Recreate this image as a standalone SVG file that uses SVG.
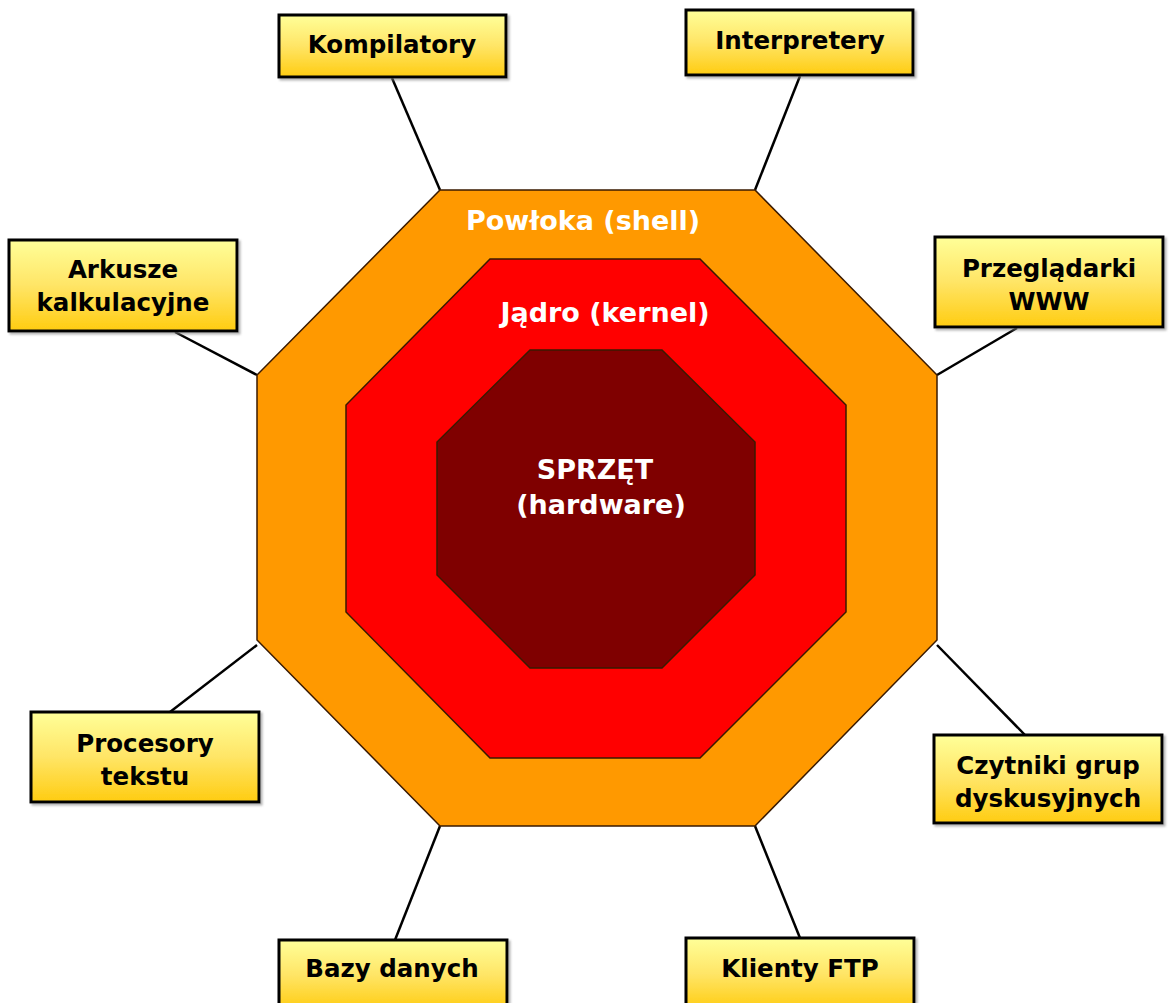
<svg xmlns="http://www.w3.org/2000/svg" width="1176" height="1003" viewBox="0 0 1176 1003">
<defs>
<linearGradient id="yg" x1="0" y1="0" x2="0" y2="1">
<stop offset="0" stop-color="#FFFF99"/>
<stop offset="0.5" stop-color="#FFE566"/>
<stop offset="1" stop-color="#FFCC11"/>
</linearGradient>
<filter id="sh" x="-5%" y="-5%" width="115%" height="130%">
<feDropShadow dx="2" dy="2" stdDeviation="1" flood-color="#808080" flood-opacity="0.6"/>
</filter>
</defs>
<style>
.box{fill:url(#yg);stroke:#000;stroke-width:3;filter:url(#sh)}
.bt{font-family:"DejaVu Sans",Verdana,sans-serif;font-weight:bold;font-size:24.5px;fill:#000;text-anchor:middle}
.wt{font-family:"DejaVu Sans",Verdana,sans-serif;font-weight:bold;font-size:27px;fill:#fff;text-anchor:middle}
.oct{stroke:#3a1a00;stroke-width:1.5}
.ln{stroke:#000;stroke-width:2.5;fill:none}
</style>
<rect width="1176" height="1003" fill="#fff"/>
<g id="connectors">
<line class="ln" x1="392" y1="78" x2="440" y2="190"/>
<line class="ln" x1="800" y1="76" x2="755" y2="190"/>
<line class="ln" x1="175" y1="332" x2="257" y2="375"/>
<line class="ln" x1="1017" y1="328" x2="937" y2="375"/>
<line class="ln" x1="170" y1="712" x2="257" y2="645"/>
<line class="ln" x1="1025" y1="735" x2="937" y2="645"/>
<line class="ln" x1="395" y1="940" x2="440" y2="826"/>
<line class="ln" x1="800" y1="938" x2="755" y2="826"/>
</g>
<g id="shell">
<polygon class="oct" fill="#FF9900" points="440,190 755,190 937,375 937,640 755,826 440,826 257,640 257,375"/>
<text class="wt" x="583" y="230">Powłoka (shell)</text>
</g>
<g id="kernel">
<polygon class="oct" fill="#FF0000" points="490,259 700,259 846,405 846,612 700,758 490,758 346,612 346,405"/>
<text class="wt" x="605" y="322">Jądro (kernel)</text>
</g>
<g id="hardware">
<polygon class="oct" fill="#7F0000" stroke="#300" points="530,350 662,350 755,442 755,575 662,668 530,668 437,575 437,442"/>
<text class="wt" x="595" y="479">SPRZĘT</text>
<text class="wt" x="601" y="514">(hardware)</text>
</g>
<g id="kompilatory">
<rect class="box" x="279" y="15" width="227" height="62"/>
<text class="bt" x="392" y="53">Kompilatory</text>
</g>
<g id="interpretery">
<rect class="box" x="686" y="10" width="227" height="65"/>
<text class="bt" x="800" y="49">Interpretery</text>
</g>
<g id="arkusze">
<rect class="box" x="9" y="240" width="228" height="91"/>
<text class="bt" x="123" y="278">Arkusze</text>
<text class="bt" x="123" y="311">kalkulacyjne</text>
</g>
<g id="przegladarki">
<rect class="box" x="935" y="237" width="228" height="90"/>
<text class="bt" x="1049" y="277">Przeglądarki</text>
<text class="bt" x="1049" y="310">WWW</text>
</g>
<g id="procesory">
<rect class="box" x="31" y="712" width="228" height="90"/>
<text class="bt" x="145" y="752">Procesory</text>
<text class="bt" x="145" y="785">tekstu</text>
</g>
<g id="czytniki">
<rect class="box" x="934" y="735" width="228" height="88"/>
<text class="bt" x="1048" y="774">Czytniki grup</text>
<text class="bt" x="1048" y="807">dyskusyjnych</text>
</g>
<g id="bazy">
<rect class="box" x="279" y="940" width="228" height="70"/>
<text class="bt" x="392" y="977">Bazy danych</text>
</g>
<g id="klienty">
<rect class="box" x="686" y="938" width="228" height="72"/>
<text class="bt" x="800" y="977">Klienty FTP</text>
</g>
</svg>
